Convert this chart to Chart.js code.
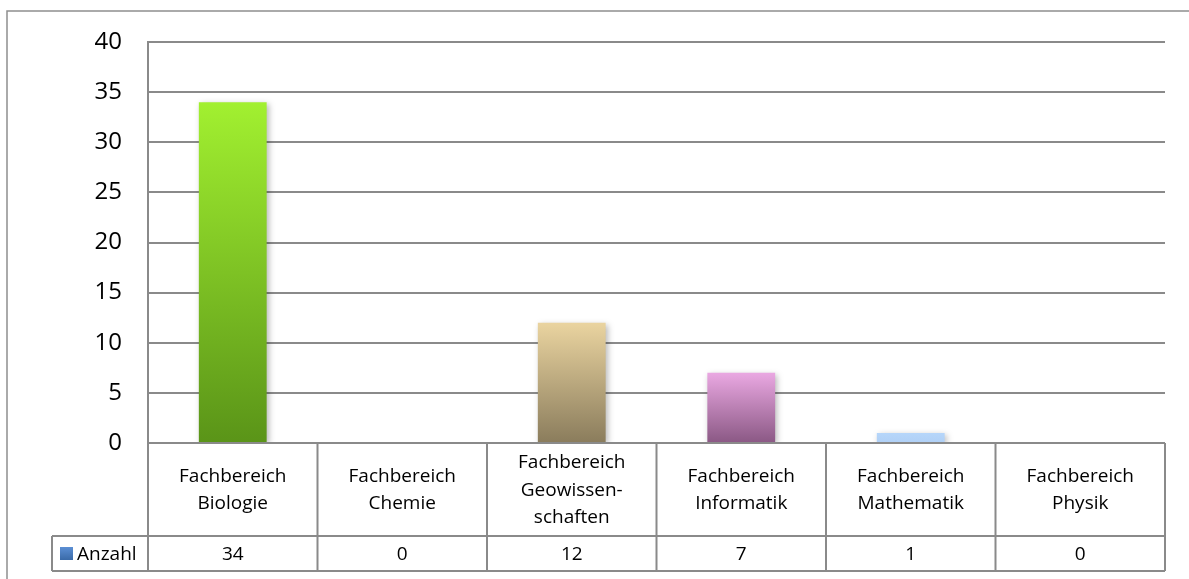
<!DOCTYPE html>
<html>
<head>
<meta charset="utf-8">
<script src="https://cdn.jsdelivr.net/npm/chart.js@4/dist/chart.umd.min.js"></script>
<style>
	html, body { margin: 0; padding: 0; background: #fff; }
	#wrap { width: 1189px; height: 579px; position: relative; }
</style>
</head>
<body>
<div id="wrap"><canvas id="chart"></canvas></div>
<script>
// categories (split into lines as in the data table)
const categories = [
	['Fachbereich', 'Biologie'],
	['Fachbereich', 'Chemie'],
	['Fachbereich', 'Geowissen-', 'schaften'],
	['Fachbereich', 'Informatik'],
	['Fachbereich', 'Mathematik'],
	['Fachbereich', 'Physik']
];
const seriesName = 'Anzahl';
const values = [34, 0, 12, 7, 1, 0];
const yTicks = [0, 5, 10, 15, 20, 25, 30, 35, 40];

// top / bottom gradient colours per bar
const topColors = ['#a2f030', '#9ab8e0', '#ead4a0', '#eaa8e2', '#b6d6fa', '#9ab8e0'];
const bottomColors = ['#5a9418', '#5a7aa8', '#8a7c5c', '#8a5884', '#b0d0f6', '#5a7aa8'];

const gridColor = '#8a8a8a';
const fontFamily = '"Open Sans", "Liberation Sans", sans-serif';

function barColor(ctx) {
	const chart = ctx.chart;
	if (!chart.chartArea) return topColors[ctx.dataIndex];
	const y = chart.scales.y;
	const yTop = y.getPixelForValue(values[ctx.dataIndex]);
	const yBottom = y.getPixelForValue(0);
	if (yBottom - yTop < 1) return topColors[ctx.dataIndex];
	const g = chart.ctx.createLinearGradient(0, yTop, 0, yBottom);
	g.addColorStop(0, topColors[ctx.dataIndex]);
	g.addColorStop(1, bottomColors[ctx.dataIndex]);
	return g;
}

// outer frame + data table under the plot
const tablePlugin = {
	id: 'dataTable',
	beforeDraw(chart) {
		const ctx = chart.ctx;
		ctx.save();
		ctx.strokeStyle = '#8e8e8e';
		ctx.lineWidth = 1.5;
		ctx.strokeRect(7, 11, 1300, 700);
		ctx.restore();
	},
	beforeDatasetsDraw(chart) {
		const ctx = chart.ctx;
		ctx.save();
		ctx.shadowColor = 'rgba(0,0,0,0.28)';
		ctx.shadowBlur = 6;
		ctx.shadowOffsetX = 2;
		ctx.shadowOffsetY = 2;
	},
	afterDatasetsDraw(chart) {
		chart.ctx.restore();
	},
	afterDraw(chart) {
		const ctx = chart.ctx;
		const area = chart.chartArea;
		const n = categories.length;
		const w = (area.right - area.left) / n;
		const top = area.bottom;
		const rowSplit = 536;
		const bottom = 571;
		const legendLeft = 52;

		ctx.save();
		ctx.strokeStyle = gridColor;
		ctx.lineWidth = 2;
		ctx.beginPath();
		// horizontal lines
		ctx.moveTo(area.left, top); ctx.lineTo(area.right, top);
		ctx.moveTo(legendLeft, rowSplit); ctx.lineTo(area.right, rowSplit);
		ctx.moveTo(legendLeft, bottom); ctx.lineTo(area.right, bottom);
		// vertical lines
		for (let i = 0; i <= n; i++) {
			const x = area.left + i * w;
			ctx.moveTo(x, top); ctx.lineTo(x, bottom);
		}
		ctx.moveTo(legendLeft, rowSplit); ctx.lineTo(legendLeft, bottom);
		ctx.stroke();

		// category labels
		ctx.fillStyle = '#000';
		ctx.font = '19px ' + fontFamily;
		ctx.textAlign = 'center';
		ctx.textBaseline = 'alphabetic';
		const lineH = 27.5;
		categories.forEach((lines, i) => {
			const cx = chart.scales.x.getPixelForValue(i);
			const mid = (top + rowSplit) / 2;
			const first = mid - (lines.length - 1) * lineH / 2 + 6;
			lines.forEach((t, k) => ctx.fillText(t, cx, first + k * lineH));
		});

		// values row
		ctx.textBaseline = 'middle';
		values.forEach((v, i) => {
			ctx.fillText(String(v), chart.scales.x.getPixelForValue(i), (rowSplit + bottom) / 2 + 1);
		});

		// legend key
		const kg = ctx.createLinearGradient(0, 547, 0, 560);
		kg.addColorStop(0, '#5b8fd4');
		kg.addColorStop(1, '#3a6aa8');
		ctx.fillStyle = kg;
		ctx.fillRect(60, 547, 13, 13);
		ctx.fillStyle = '#000';
		ctx.textAlign = 'left';
		ctx.fillText(seriesName, 77, (rowSplit + bottom) / 2 + 1);
		ctx.restore();
	}
};

new Chart(document.getElementById('chart'), {
	type: 'bar',
	data: {
		labels: categories.map(c => c.join(' ')),
		datasets: [{
			label: seriesName,
			data: values,
			backgroundColor: barColor,
			borderWidth: 0,
			categoryPercentage: 1,
			barPercentage: 0.4
		}]
	},
	options: {
		responsive: true,
		maintainAspectRatio: false,
		animation: false,
		layout: { padding: { left: 0, top: 42, right: 24, bottom: 136 } },
		plugins: {
			legend: { display: false },
			tooltip: { enabled: false }
		},
		scales: {
			x: {
				display: false
			},
			y: {
				min: 0,
				max: 40,
				afterBuildTicks(scale) {
					scale.ticks = yTicks.map(v => ({ value: v }));
				},
				afterFit(scale) {
					scale.width = 148;
				},
				grid: {
					color: gridColor,
					lineWidth: 2,
					drawTicks: false
				},
				border: { display: true, color: gridColor, width: 2 },
				ticks: {
					color: '#000',
					padding: 26,
					font: { size: 24, family: fontFamily }
				}
			}
		}
	},
	plugins: [tablePlugin]
});
</script>
</body>
</html>
